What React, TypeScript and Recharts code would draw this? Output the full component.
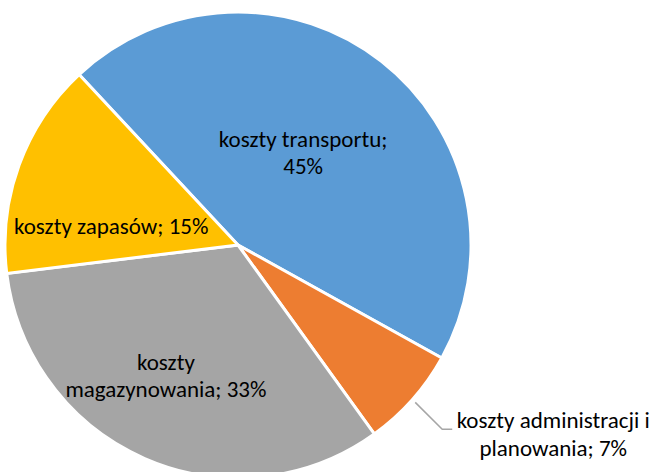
import { PieChart, Pie, Cell } from "recharts";

// udział kosztów logistyki
const names = ["koszty transportu", "koszty administracji i planowania", "koszty magazynowania", "koszty zapasów"];
const shares = [45, 7, 33, 15];
const colors = ["#5B9BD5", "#ED7D31", "#A5A5A5", "#FFC000"];

const data = names.map((name, i) => ({ name, value: shares[i] }));

const RAD = Math.PI / 180;
const FONT = "Carlito, Calibri, Lato, sans-serif";
const FS = 23;

// label lines per slice
const labelLines = [
  ["koszty transportu;", "45%"],
  ["koszty administracji i", "planowania; 7%"],
  ["koszty", "magazynowania; 33%"],
  ["koszty zapasów; 15%"],
];
// radius factor + angle shift for inside labels
const labelPos = [
  { r: 0.485, shift: 2.8 },
  { r: 1.03, shift: 0 },
  { r: 0.64, shift: -5.3 },
  { r: 0.55, shift: 11.6 },
];

const polar = (cx: number, cy: number, r: number, a: number) => ({
  x: cx + r * Math.cos(-a * RAD),
  y: cy + r * Math.sin(-a * RAD),
});

function renderLabel(props: any) {
  const { cx, cy, midAngle, outerRadius, index } = props;
  const lines = labelLines[index];
  if (index === 1) {
    // outside label with leader line
    const s = polar(cx, cy, outerRadius + 4, midAngle);
    const b = { x: s.x + 27, y: s.y + 27 };
    const e = { x: b.x + 10, y: b.y };
    return (
      <g key={`lbl-${index}`}>
        <polyline
          points={`${s.x},${s.y} ${b.x},${b.y} ${e.x},${e.y}`}
          fill="none"
          stroke="#A6A6A6"
          strokeWidth={1.5}
        />
        {lines.map((t, i) => (
          <text
            key={i}
            x={e.x + 101}
            y={e.y - 9 + i * 28}
            textAnchor="middle"
            dominantBaseline="central"
            fontFamily={FONT}
            fontSize={FS}
            fill="#000"
          >
            {t}
          </text>
        ))}
      </g>
    );
  }
  const p = labelPos[index];
  const c = polar(cx, cy, outerRadius * p.r, midAngle + p.shift);
  const top = c.y - ((lines.length - 1) * 27) / 2;
  return (
    <g key={`lbl-${index}`}>
      {lines.map((t, i) => (
        <text
          key={i}
          x={c.x}
          y={top + i * 27}
          textAnchor="middle"
          dominantBaseline="central"
          fontFamily={FONT}
          fontSize={FS}
          fill="#000"
        >
          {t}
        </text>
      ))}
    </g>
  );
}

export default function App() {
  return (
    <div style={{ position: "absolute", left: 0, top: 0, background: "#fff" }}>
      <PieChart width={653} height={472} margin={{ top: 0, right: 0, bottom: 0, left: 0 }}>
        <Pie
          data={data}
          dataKey="value"
          nameKey="name"
          cx={238}
          cy={245}
          outerRadius={233}
          startAngle={133}
          endAngle={-227}
          stroke="#fff"
          strokeWidth={3}
          label={renderLabel}
          labelLine={false}
          isAnimationActive={false}
        >
          {data.map((d, i) => (
            <Cell key={d.name} fill={colors[i]} />
          ))}
        </Pie>
      </PieChart>
    </div>
  );
}
